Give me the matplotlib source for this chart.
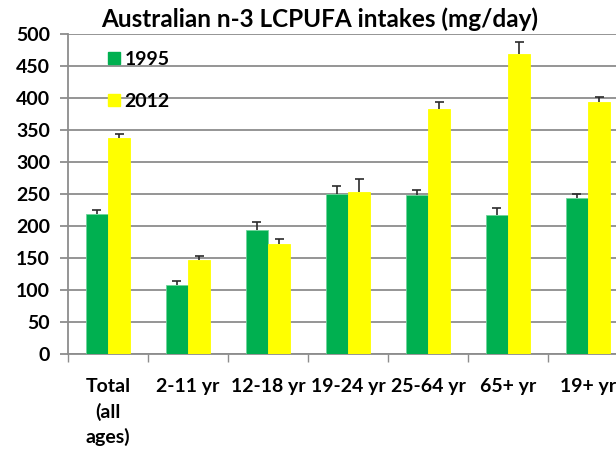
import matplotlib.pyplot as plt
import numpy as np
from matplotlib.lines import Line2D

plt.rcParams['font.family'] = ['Lato', 'DejaVu Sans']
plt.rcParams['font.weight'] = 'bold'

# Data
categories = ['Total\n(all\nages)', '2-11 yr', '12-18 yr', '19-24 yr',
              '25-64 yr', '65+ yr', '19+ yr']
intake_1995 = [220, 109, 194, 251, 249, 217, 244]
err_1995 = [5, 5, 12, 12, 7, 11, 6]
intake_2012 = [338, 147, 172, 254, 384, 469, 394]
err_2012 = [7, 7, 8, 20, 10, 19, 8]

GREEN = '#00B050'
YELLOW = '#FFFF00'
GRID = '#8c8c8c'
ERR = '#2b2b2b'

fig = plt.figure(figsize=(6.16, 4.5), dpi=100)
# plot area runs past the right edge, as in the cropped original
ax = fig.add_axes([68 / 616, 1 - 354.3 / 450, 560 / 616, 320 / 450])

x = np.arange(len(categories)) + 0.5
w = 0.28
cap = 0.055


def draw_series(xpos, vals, errs, color, edge):
    vals = np.array(vals)
    errs = np.array(errs)
    ax.bar(xpos, vals, w, color=color, edgecolor=edge, linewidth=0.6, zorder=3)
    # upper-only error bars, Excel style
    ax.vlines(xpos, vals, vals + errs, color=ERR, linewidth=1.2, zorder=4)
    ax.hlines(vals + errs, xpos - cap, xpos + cap, color=ERR, linewidth=1.2, zorder=4)


draw_series(x - w / 2, intake_1995, err_1995, GREEN, '#6fd49a')
draw_series(x + w / 2, intake_2012, err_2012, YELLOW, YELLOW)

ax.set_xlim(0, 7)
ax.set_ylim(0, 500)
ax.set_yticks(range(0, 501, 50))
ax.yaxis.grid(True, color=GRID, linewidth=1.3, zorder=0)
ax.set_axisbelow(True)

ax.set_xticks(x)
ax.set_xticklabels(categories, fontsize=14, fontweight='bold', linespacing=1.5,
                   va='top')
ax.set_xticks(np.arange(0, 8), minor=True)
ax.tick_params(axis='x', which='major', length=0, pad=17)
ax.tick_params(axis='x', which='minor', length=6, color=GRID, width=1)
ax.tick_params(axis='y', length=6, color=GRID, width=1.3, labelsize=14, pad=7)
for lab in ax.get_yticklabels():
    lab.set_fontweight('bold')

for side in ['top', 'right']:
    ax.spines[side].set_visible(False)
for side in ['left', 'bottom']:
    ax.spines[side].set_color(GRID)
    ax.spines[side].set_linewidth(1.3)

handles = [Line2D([], [], marker='s', linestyle='none', markersize=8.5,
                  markerfacecolor=GREEN, markeredgecolor=GREEN, label='1995'),
           Line2D([], [], marker='s', linestyle='none', markersize=8.5,
                  markerfacecolor=YELLOW, markeredgecolor=YELLOW, label='2012')]
fig.legend(handles=handles, loc='upper left', bbox_to_anchor=(99 / 616, 1 - 43 / 450),
           frameon=False, prop=dict(size=14, weight='bold'), handlelength=0.7,
           handletextpad=0.2, labelspacing=1.3, borderaxespad=0)

fig.text(320 / 616, 1 - 19 / 450, 'Australian n-3 LCPUFA intakes (mg/day)',
         ha='center', va='center', fontsize=17.5, fontweight='bold')

fig.savefig('out.png', dpi=100)
